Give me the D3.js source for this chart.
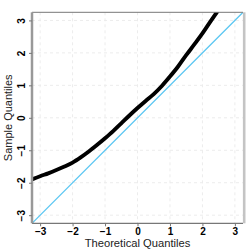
<!DOCTYPE html>
<html>
<head>
<meta charset="utf-8">
<script src="https://cdn.jsdelivr.net/npm/d3@7"></script>
<style>
  html, body { margin: 0; padding: 0; background: #fff; }
  text { font-family: "Liberation Sans", Arial, sans-serif; }
</style>
</head>
<body>
<div id="chart"></div>
<script>
// theoretical vs sample quantiles
var theo = [-3.25, -3.0, -2.75, -2.5, -2.25, -2.0, -1.75, -1.5, -1.25, -1.0, -0.75, -0.5, -0.25,
    0.0, 0.25, 0.5, 0.75, 1.0, 1.25, 1.5, 1.75, 2.0, 2.25, 2.5];
var sample = [-1.90, -1.80, -1.71, -1.61, -1.50, -1.38, -1.22, -1.04, -0.84, -0.63, -0.41, -0.17, 0.07,
    0.30, 0.52, 0.73, 0.98, 1.27, 1.58, 1.93, 2.26, 2.60, 2.97, 3.33];
var ticks = [-3, -2, -1, 0, 1, 2, 3];
var refLine = [-3.25, 3.25];

var width = 249, height = 249;
var margin = {top: 12.3, right: 6, bottom: 25.7, left: 32};
var pw = width - margin.left - margin.right;
var ph = height - margin.top - margin.bottom;

var svg = d3.select("#chart").append("svg")
    .attr("width", width)
    .attr("height", height);

var x = d3.scaleLinear().domain([-3.25, 3.25]).range([margin.left, margin.left + pw]);
var y = d3.scaleLinear().domain([-3.25, 3.25]).range([margin.top + ph, margin.top]);

svg.append("clipPath").attr("id", "clip")
    .append("rect")
    .attr("x", margin.left)
    .attr("y", margin.top)
    .attr("width", pw)
    .attr("height", ph);

// dashed grid
var grid = svg.append("g").attr("class", "grid");
grid.selectAll(".gx").data(ticks).enter().append("line")
    .attr("x1", function(d) { return x(d); })
    .attr("x2", function(d) { return x(d); })
    .attr("y1", margin.top)
    .attr("y2", margin.top + ph)
    .attr("stroke", "#ececec")
    .attr("stroke-dasharray", "3,3");
grid.selectAll(".gy").data(ticks).enter().append("line")
    .attr("y1", function(d) { return y(d); })
    .attr("y2", function(d) { return y(d); })
    .attr("x1", margin.left)
    .attr("x2", margin.left + pw)
    .attr("stroke", "#ececec")
    .attr("stroke-dasharray", "3,3");

var plot = svg.append("g").attr("clip-path", "url(#clip)");

plot.append("line")
    .attr("x1", x(refLine[0]))
    .attr("y1", y(refLine[0]))
    .attr("x2", x(refLine[1]))
    .attr("y2", y(refLine[1]))
    .attr("stroke", "#5ac6f2")
    .attr("stroke-width", 1.3);

var pts = theo.map(function(d, i) { return [d, sample[i]]; });
plot.append("path")
    .datum(pts)
    .attr("d", d3.line()
        .x(function(d) { return x(d[0]); })
        .y(function(d) { return y(d[1]); })
        .curve(d3.curveMonotoneX))
    .attr("fill", "none")
    .attr("stroke", "#000")
    .attr("stroke-width", 3.9)
    .attr("stroke-linecap", "round");

// frame
svg.append("line").attr("x1", margin.left).attr("x2", margin.left + pw)
    .attr("y1", margin.top).attr("y2", margin.top)
    .attr("stroke", "#777").attr("stroke-width", 1);
svg.append("line").attr("x1", margin.left).attr("x2", margin.left + pw)
    .attr("y1", margin.top + ph).attr("y2", margin.top + ph)
    .attr("stroke", "#555").attr("stroke-width", 1);
svg.append("line").attr("x1", margin.left).attr("x2", margin.left)
    .attr("y1", margin.top).attr("y2", margin.top + ph)
    .attr("stroke", "#999").attr("stroke-width", 2.5);
svg.append("line").attr("x1", margin.left + pw + 1.2).attr("x2", margin.left + pw + 1.2)
    .attr("y1", margin.top).attr("y2", margin.top + ph)
    .attr("stroke", "#c4c4c4").attr("stroke-width", 2.6);

// axes
var xAxis = svg.append("g")
    .attr("transform", "translate(0," + (margin.top + ph) + ")")
    .call(d3.axisBottom(x).tickValues(ticks).tickSize(3).tickPadding(1.5)
        .tickFormat(function(d) { return d < 0 ? "\u2212" + (-d) : d; }));
xAxis.select(".domain").remove();
xAxis.selectAll("line").attr("stroke", "#777");
xAxis.selectAll("text")
    .attr("font-size", 10)
    .attr("font-weight", "bold")
    .attr("fill", "#000");

var yAxis = svg.append("g")
    .attr("transform", "translate(" + margin.left + ",0)")
    .call(d3.axisLeft(y).tickValues(ticks).tickSize(3).tickPadding(1.5)
        .tickFormat(function(d) { return d < 0 ? "\u2212" + (-d) : d; }));
yAxis.select(".domain").remove();
yAxis.selectAll("line").attr("stroke", "#777");
yAxis.selectAll("text")
    .attr("font-size", 10)
    .attr("font-weight", "bold")
    .attr("fill", "#000")
    .attr("x", null)
    .attr("dy", null)
    .attr("text-anchor", "middle")
    .attr("transform", "translate(-7,0) rotate(-90)");

svg.append("text")
    .text("Theoretical Quantiles")
    .attr("x", margin.left + pw / 2)
    .attr("y", 246.5)
    .attr("text-anchor", "middle")
    .attr("font-size", 11.2)
    .attr("fill", "#222");

svg.append("text")
    .text("Sample Quantiles")
    .attr("transform", "translate(12," + (margin.top + ph / 2) + ") rotate(-90)")
    .attr("text-anchor", "middle")
    .attr("font-size", 11)
    .attr("fill", "#222");
</script>
</body>
</html>
